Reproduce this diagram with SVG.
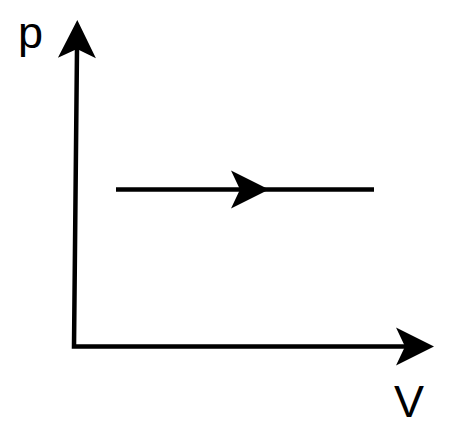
<svg xmlns="http://www.w3.org/2000/svg" width="455" height="440" viewBox="0 0 455 440">
  <style>
    .ln { fill: none; stroke: #000; stroke-width: 4.5; stroke-linejoin: miter; }
    .lbl { font-family: "Liberation Sans", Arial, sans-serif; font-size: 45px; fill: #000; }
  </style>
  <defs>
    <marker id="head" markerUnits="userSpaceOnUse" viewBox="-10 -20 40 40" markerWidth="40" markerHeight="40" refX="0" refY="0" orient="auto-start-reverse" overflow="visible">
      <path d="M29,0 L-9,-19 L0,0 L-9,19 Z" fill="#000"/>
    </marker>
  </defs>
  <rect width="455" height="440" fill="#fff"/>
  <g id="connectors">
    <path id="axes" class="ln" d="M77,49 L74,346.5 L405,346.5" marker-start="url(#head)" marker-end="url(#head)"/>
    <path id="process" class="ln" d="M116,189.5 L240,189.5 L374,189.5" marker-mid="url(#head)"/>
  </g>
  <g id="label-p">
    <text class="lbl" x="18" y="48">p</text>
  </g>
  <g id="label-V">
    <text class="lbl" x="394" y="417">V</text>
  </g>
</svg>
